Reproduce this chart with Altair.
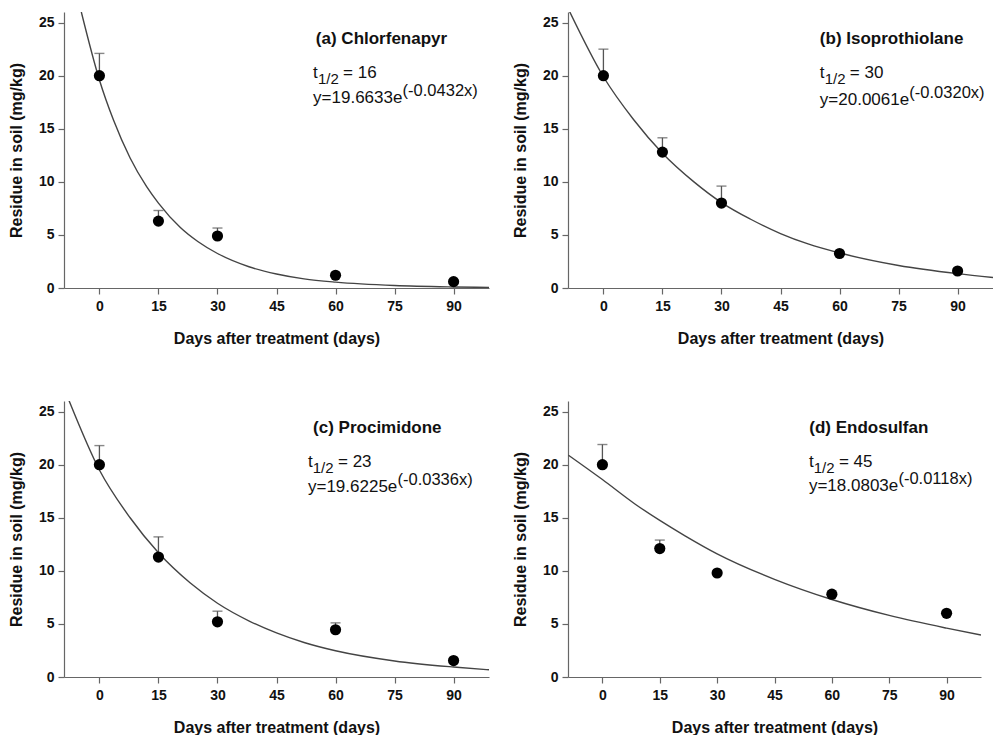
import altair as alt
import pandas as pd

FONT = "Liberation Sans"

# ---- data ----
days = [0, 15, 30, 60, 90]
mean_a = [20.0, 6.3, 4.9, 1.2, 0.6]
mean_b = [20.0, 12.8, 8.0, 3.25, 1.6]
mean_c = [20.0, 11.3, 5.2, 4.45, 1.55]
mean_d = [20.0, 12.1, 9.8, 7.8, 6.0]

upper_a = [22.1, 7.3, 5.65, None, None]
upper_b = [22.5, 14.15, 9.6, None, None]
upper_c = [21.8, 13.2, 6.2, 5.1, None]
upper_d = [21.9, 12.9, None, None, None]

# fitted curves
curve_a_x = [-4.6, 0, 3.6, 7.8, 12, 15, 20.5, 25, 30, 38, 45, 52, 60, 75, 90, 99]
curve_a_y = [26.0, 19.6, 15.8, 12.25, 9.55, 8.0, 5.72, 4.38, 3.25, 2.0, 1.32, 0.86, 0.55, 0.23, 0.1, 0.06]
curve_b_x = [-8.8, 0, 7.7, 15, 23, 30, 37.3, 45, 52, 60, 75, 90, 99]
curve_b_y = [26.2, 19.9, 15.85, 12.7, 10.0, 8.05, 6.5, 5.13, 4.15, 3.3, 2.12, 1.35, 0.99]
curve_c_x = [-7.9, 0, 7.8, 15, 23.1, 30, 38.2, 45, 52, 60, 75, 90, 99]
curve_c_y = [26.2, 19.5, 15.0, 11.7, 8.85, 6.95, 5.25, 4.15, 3.25, 2.47, 1.51, 0.94, 0.68]
curve_d_x = [-8.9, 0, 8.5, 15, 21.6, 30, 45, 60, 75, 90, 99]
curve_d_y = [20.9, 18.6, 16.3, 14.75, 13.3, 11.6, 9.2, 7.3, 5.8, 4.6, 3.95]

titles = ["(a) Chlorfenapyr", "(b) Isoprothiolane", "(c) Procimidone", "(d) Endosulfan"]
half_lives = ["16", "30", "23", "45"]
coefs = ["19.6633", "20.0061", "19.6225", "18.0803"]
rates = ["-0.0432", "-0.0320", "-0.0336", "-0.0118"]

x_ticks = [0, 15, 30, 45, 60, 75, 90]
y_ticks = [0, 5, 10, 15, 20, 25]

means = [mean_a, mean_b, mean_c, mean_d]
uppers = [upper_a, upper_b, upper_c, upper_d]
curves = [(curve_a_x, curve_a_y), (curve_b_x, curve_b_y),
          (curve_c_x, curve_c_y), (curve_d_x, curve_d_y)]

# ---- styling / layout constants ----
PLOT_H = 276
WIDTHS = [425, 425, 425, 413]
TITLE_POS = [(55, 23.5), (55, 23.5), (54.3, 23.5), (54.1, 23.5)]
TEXT_POS = [(54.3, 20.3, 17.9), (55, 20.3, 17.7), (53, 20.3, 17.9), (54, 20.3, 18.0)]

xscale = alt.Scale(domain=[-9, 99], nice=False, zero=False)
yscale = alt.Scale(domain=[0, 26], nice=False, zero=True)
xaxis = alt.Axis(values=x_ticks, title="Days after treatment (days)", labelPadding=5,
                 titlePadding=17, grid=False)
yaxis = alt.Axis(values=y_ticks, title="Residue in soil (mg/kg)", labelPadding=4,
                 titlePadding=14, grid=False)

X = alt.X("day:Q", scale=xscale, axis=xaxis)
Y = alt.Y("res:Q", scale=yscale, axis=yaxis)


def text_layer(label, day, res, size, weight="normal", dx=0, dy=0):
    df = pd.DataFrame({"day": [day], "res": [res], "label": [label]})
    return alt.Chart(df).mark_text(
        align="left", baseline="middle", font=FONT, fontSize=size,
        fontWeight=weight, color="#111", dx=dx, dy=dy
    ).encode(x=X, y=Y, text="label:N")


def panel(i):
    pts = pd.DataFrame({"day": days, "res": means[i], "upper": uppers[i]})
    err = pts.dropna()
    cx, cy = curves[i]
    crv = pd.DataFrame({"day": cx, "res": cy})

    line = alt.Chart(crv).mark_line(
        color="#444", strokeWidth=1.4, interpolate="monotone", clip=True
    ).encode(x=X, y=Y)
    rule = alt.Chart(err).mark_rule(color="#555", strokeWidth=1.3).encode(
        x=X, y=Y, y2="upper:Q")
    cap = alt.Chart(err).mark_tick(
        color="#555", orient="horizontal", size=10, thickness=1.4
    ).encode(x=X, y=alt.Y("upper:Q", scale=yscale, axis=yaxis))
    dots = alt.Chart(pts).mark_circle(color="black", size=125, opacity=1).encode(x=X, y=Y)

    tx, ty = TITLE_POS[i]
    ex, t_y, e_y = TEXT_POS[i]
    texts = [
        text_layer(titles[i], tx, ty, 17, "bold"),
        text_layer("t", ex, t_y, 17),
        text_layer("1/2", ex, t_y, 15, dx=4.8, dy=6),
        text_layer("= " + half_lives[i], ex, t_y, 17, dx=30),
        text_layer("y=" + coefs[i] + "e", ex, e_y, 17),
        text_layer("(" + rates[i] + "x)", ex, e_y, 16.5, dx=89.5, dy=-7),
    ]
    return alt.layer(line, rule, cap, dots, *texts).properties(
        width=WIDTHS[i], height=PLOT_H)


top = alt.hconcat(panel(0), panel(1), spacing=23)
bottom = alt.hconcat(panel(2), panel(3), spacing=23)

chart = alt.vconcat(top, bottom, spacing=55).properties(
    padding={"left": 8, "top": 12, "right": 0, "bottom": 0},
    background="white",
).configure_axis(
    grid=False,
    domainColor="#666", tickColor="#666", domainWidth=1.2, tickWidth=1.2, tickSize=6,
    labelFont=FONT, labelFontWeight="bold", labelFontSize=14, labelColor="#111",
    titleFont=FONT, titleFontWeight="bold", titleFontSize=16, titleColor="#111",
).configure_view(stroke=None)

chart.save("out.html", embed_options={"renderer": "svg", "actions": False})
